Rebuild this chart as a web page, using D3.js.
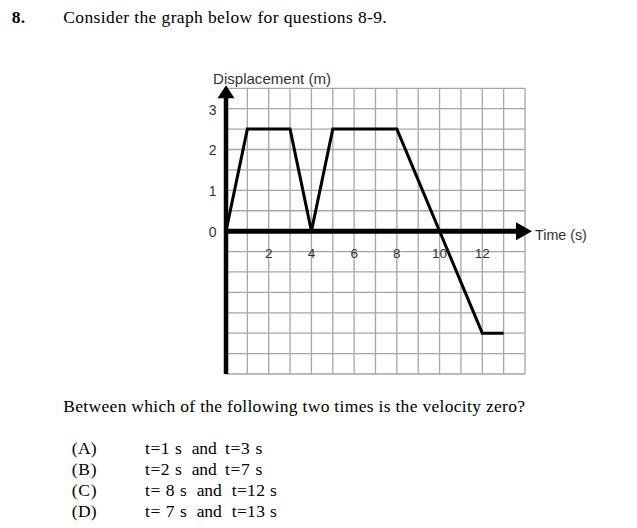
<!DOCTYPE html>
<html><head><meta charset="utf-8">
<script src="https://cdn.jsdelivr.net/npm/d3@7"></script>
<style>body{margin:0;background:#fff}svg{display:block}</style>
</head><body>
<script>
// Data
const times = [0, 1, 3, 4, 5, 8, 12, 13];
const displacement = [0, 2.5, 2.5, 0, 2.5, 2.5, -2.5, -2.5];
const xTicks = [2, 4, 6, 8, 10, 12];
const yTicks = [0, 1, 2, 3];
const xLabel = "Time (s)";
const yLabel = "Displacement (m)";
const optionLetters = ["(A)", "(B)", "(C)", "(D)"];
const optionFirst = ["t=1 s", "t=2 s", "t= 8 s", "t= 7 s"];
const optionSecond = ["t=3 s", "t=7 s", "t=12 s", "t=13 s"];

const W = 637, H = 528;
const svg = d3.select("body").append("svg").attr("width", W).attr("height", H);
svg.append("rect").attr("width", W).attr("height", H).attr("fill", "#fff");

const x = d3.scaleLinear().domain([0, 14]).range([226, 525]);
const y = d3.scaleLinear().domain([-3.5, 3.5]).range([374, 88.3]);

// grid
const g = svg.append("g");
g.selectAll("line.v").data(d3.range(1, 15)).enter().append("line")
  .attr("x1", d => x(d)).attr("x2", d => x(d))
  .attr("y1", y(3.5)).attr("y2", y(-3.5))
  .attr("stroke", "#a6a6a6").attr("stroke-width", 1.3);
g.selectAll("line.h").data(d3.range(-3.5, 3.51, 0.5)).enter().append("line")
  .attr("x1", x(0)).attr("x2", x(14))
  .attr("y1", d => y(d)).attr("y2", d => y(d))
  .attr("stroke", "#a6a6a6").attr("stroke-width", 1.3);

// data line
const line = d3.line().x((d, i) => x(times[i])).y(d => y(d));
svg.append("path").datum(displacement).attr("d", line)
  .attr("fill", "none").attr("stroke", "#000").attr("stroke-width", 3)
  .attr("stroke-linejoin", "miter");

// axes
svg.append("line").attr("x1", x(0)).attr("x2", x(0))
  .attr("y1", y(-3.5)).attr("y2", y(3.5) + 6)
  .attr("stroke", "#000").attr("stroke-width", 4.5);
svg.append("path")
  .attr("d", `M${x(0)},${y(3.5) - 3} L${x(0) - 8.5},${y(3.5) + 10} L${x(0) + 8.5},${y(3.5) + 10} Z`)
  .attr("fill", "#000");
svg.append("line").attr("x1", x(0) - 2).attr("x2", x(14) - 6)
  .attr("y1", y(0)).attr("y2", y(0))
  .attr("stroke", "#000").attr("stroke-width", 5);
svg.append("path")
  .attr("d", `M${x(14) + 7},${y(0)} L${x(14) - 9},${y(0) - 9} L${x(14) - 9},${y(0) + 9} Z`)
  .attr("fill", "#000");

// tick labels
const sans = "'Liberation Sans', Arial, sans-serif";
svg.selectAll("text.yt").data(yTicks).enter().append("text")
  .attr("x", 212.7).attr("y", d => y(d) + 1).attr("dy", "0.35em")
  .attr("text-anchor", "middle").attr("font-family", sans).attr("font-size", 14)
  .attr("fill", "#333").text(d => d);
svg.selectAll("text.xt").data(xTicks).enter().append("text")
  .attr("x", d => x(d)).attr("y", 253.3).attr("dy", "0.35em")
  .attr("text-anchor", "middle").attr("font-family", sans).attr("font-size", 13.5)
  .attr("fill", "#333").text(d => d);
svg.append("text").attr("x", 213).attr("y", 84).attr("font-family", sans)
  .attr("font-size", 14.5).attr("fill", "#333")
  .attr("textLength", 118).attr("lengthAdjust", "spacingAndGlyphs").text(yLabel);
svg.append("text").attr("x", 535).attr("y", 240).attr("font-family", sans)
  .attr("font-size", 14.3).attr("fill", "#333").text(xLabel);

// question text
const serif = "'Liberation Serif', 'Times New Roman', serif";
function st(txt, x0, x1, yy, bold) {
  return svg.append("text").attr("x", x0).attr("y", yy).attr("font-family", serif)
    .attr("font-size", 17.5).attr("font-weight", bold ? "bold" : "normal")
    .attr("textLength", x1 - x0).attr("lengthAdjust", "spacing").text(txt);
}
st("8.", 11.7, 25, 23, true);
st("Consider the graph below for questions 8-9.", 63.3, 386.7, 23);
st("Between which of the following two times is the velocity zero?", 63.3, 525, 412);

const baseY = [454, 475, 496, 516.7];
const firstEnd = [181.7, 181.7, 186.7, 186.7];
const andX = [191.7, 191.7, 196.7, 196.7];
const secX = [225, 225, 231.7, 231.7];
const secEnd = [262.3, 262.3, 276.7, 276.7];
optionLetters.forEach((l, i) => {
  st(l, 71.7, 96.7, baseY[i]);
  st(optionFirst[i], 145, firstEnd[i], baseY[i]);
  st("and", andX[i], andX[i] + 25, baseY[i]);
  st(optionSecond[i], secX[i], secEnd[i], baseY[i]);
});
</script>
</body></html>
